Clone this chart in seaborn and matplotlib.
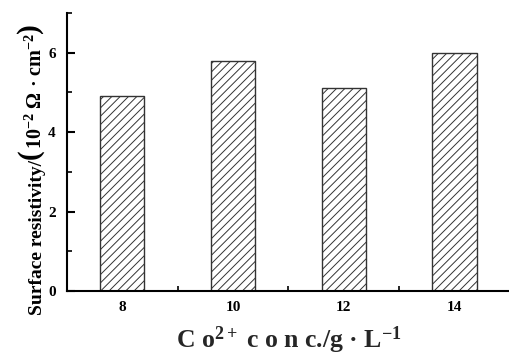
import matplotlib
matplotlib.use("Agg")
import matplotlib.pyplot as plt
import seaborn as sns
import pandas as pd
from matplotlib.ticker import MultipleLocator

# Surface resistivity versus Co2+ concentration in the bath
co_conc = [8, 10, 12, 14]
resistivity = [4.9, 5.8, 5.1, 6.0]
x_ticks = [8, 10, 12, 14]
y_ticks = [0, 2, 4, 6]

sns.set_theme(style="ticks")
plt.rcParams["font.family"] = ["Liberation Serif", "DejaVu Serif"]
plt.rcParams["font.weight"] = "bold"
plt.rcParams["mathtext.fontset"] = "custom"
plt.rcParams["mathtext.rm"] = "Liberation Serif:bold"
plt.rcParams["mathtext.it"] = "Liberation Serif:bold"
plt.rcParams["mathtext.bf"] = "Liberation Serif:bold"
plt.rcParams["mathtext.default"] = "regular"
plt.rcParams["hatch.linewidth"] = 0.7
plt.rcParams["hatch.color"] = "black"

df = pd.DataFrame({"conc": co_conc, "res": resistivity})

fig = plt.figure(figsize=(5.10, 3.58), dpi=100)
ax = fig.add_axes([0.131, 0.187, 0.869, 0.777])

sns.barplot(data=df, x="conc", y="res", native_scale=True, width=0.4,
            color="white", edgecolor="#333333", linewidth=1.0, ax=ax)
for p in ax.patches:
    p.set_hatch("////")
    p.set_facecolor("white")

ax.set_xlim(7, 15)
ax.set_ylim(0, 7)
ax.set_xticks(x_ticks)
ax.set_yticks(y_ticks)
ax.xaxis.set_minor_locator(MultipleLocator(1))
ax.yaxis.set_minor_locator(MultipleLocator(1))

for side in ["top", "right"]:
    ax.spines[side].set_visible(False)
for side in ["left", "bottom"]:
    ax.spines[side].set_linewidth(1.5)
    ax.spines[side].set_color("black")

ax.tick_params(axis="both", which="major", direction="in", length=6, width=1.5,
               labelsize=11, colors="black")
ax.tick_params(axis="x", which="major", pad=7)
ax.tick_params(axis="y", which="major", pad=8)
ax.tick_params(axis="both", which="minor", direction="in", length=3.5, width=1.2,
               colors="black")
for lab in ax.get_xticklabels() + ax.get_yticklabels():
    lab.set_fontweight("bold")

ax.set_xlabel("C o$^{2+}$ c o n c./g \u00b7 L$^{-1}$", fontsize=18.5,
              fontweight="bold", labelpad=8)
ax.set_ylabel("")

# y-axis title: plain text, tall brackets, and the unit, laid end to end
fig.canvas.draw()
renderer = fig.canvas.get_renderer()
pieces = [
    ("Surface resistivity/", 14, 42, 1),
    ("(", 21, 37, 0),
    ("10$^{-2}$ \u03a9 \u00b7 cm$^{-2}$", 14.5, 42, 0),
    (")", 21, 37, 0),
]
y_pos = 43
for text, size, base_x, gap in pieces:
    t = fig.text(base_x / 510, y_pos / 358, text, rotation=90,
                 rotation_mode="anchor", ha="left", va="baseline",
                 fontsize=size, fontweight="bold", color="black")
    y_pos += t.get_window_extent(renderer).height + gap

fig.savefig("out.png", dpi=100)
